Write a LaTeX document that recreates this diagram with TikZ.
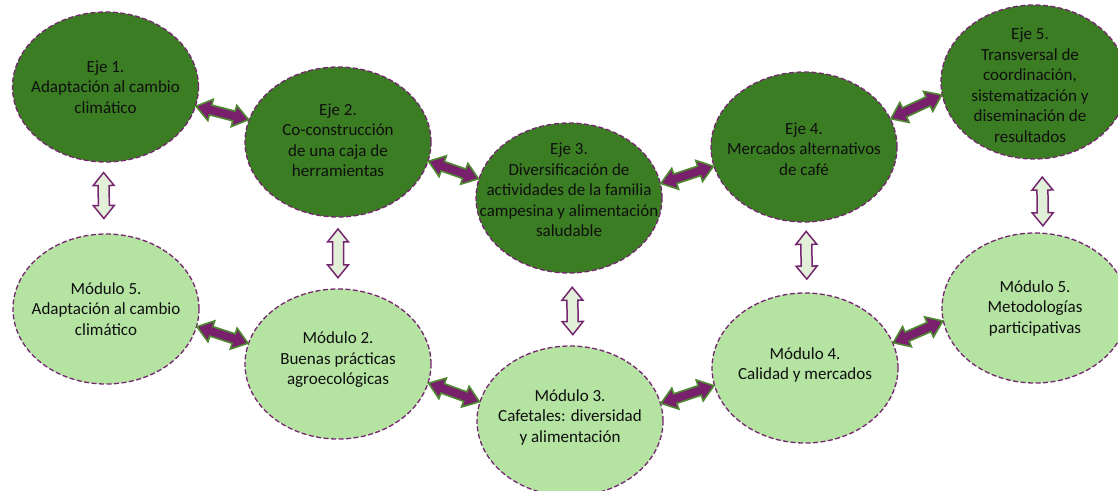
\documentclass[tikz,border=0pt]{standalone}
\usepackage{fontspec}
\setmainfont{Carlito}
\usetikzlibrary{calc,shapes.geometric}

\definecolor{ejegreen}{RGB}{59,125,35}
\definecolor{modgreen}{RGB}{180,227,162}
\definecolor{borderpurple}{RGB}{118,38,112}
\definecolor{arrowpurple}{RGB}{120,32,108}
\definecolor{arrowgreen}{RGB}{78,136,48}
\definecolor{palegreen}{RGB}{226,240,217}
\definecolor{textdark}{RGB}{15,15,15}

% double headed block arrow: start, end, style, head length, head half width, shaft half width
\newcommand{\dblarr}[6]{%
	\coordinate (da1) at ($(#1)!#4!(#2)$);
	\coordinate (da2) at ($(#2)!#4!(#1)$);
	\filldraw[#3] (#1) -- ($(da1)!#5!90:(#2)$) -- ($(da1)!#6!90:(#2)$)
		-- ($(da2)!#6!-90:(#1)$) -- ($(da2)!#5!-90:(#1)$) -- (#2)
		-- ($(da2)!#5!90:(#1)$) -- ($(da2)!#6!90:(#1)$)
		-- ($(da1)!#6!-90:(#2)$) -- ($(da1)!#5!-90:(#2)$) -- cycle;
}

\begin{document}
\begin{tikzpicture}
    [%%%%%%%%%%%%%%%%%%%%%%%%%%%%%%
        x=1pt,y=-1pt,
        eje/.style={ellipse,draw=borderpurple,fill=ejegreen,line width=1.3pt,
        	dash pattern=on 5pt off 2.5pt,minimum width=186pt,minimum height=150pt,
        	inner sep=0pt},
        modulo/.style={eje,fill=modgreen},
        txt/.style={align=center,text=textdark,inner sep=0pt,font=\fontsize{17}{20.5}\selectfont},
        hbar/.style={fill=arrowpurple,draw=arrowgreen,line width=1.6pt,line join=miter},
        vbar/.style={fill=palegreen,draw=borderpurple,line width=1.5pt,line join=miter},
    ]%%%%%%%%%%%%%%%%%%%%%%%%%%%%%%

\useasboundingbox (0,0) rectangle (1118,490);
\clip (0,0) rectangle (1118,490);

% ejes
\node[eje] (e1) at (105.5,87) {};
\node[eje] (e2) at (338,142) {};
\node[eje] (e3) at (569,198) {};
\node[eje] (e4) at (804,147) {};
\node[eje,minimum height=154pt] (e5) at (1034,82) {};

% modulos
\node[modulo] (m1) at (106,309) {};
\node[modulo] (m2) at (338,364) {};
\node[modulo] (m3) at (570,421) {};
\node[modulo] (m4) at (805,368) {};
\node[modulo] (m5) at (1035,308) {};

% texts
\node[txt] (t1) at (e1) {Eje 1.\\Adaptación al cambio\\climático};
\node[txt,yshift=2pt] (t2) at (e2) {Eje 2.\\Co-construcción\\de una caja de\\herramientas};
\node[txt,yshift=8pt] (t3) at (e3) {Eje 3.\\Diversificación de\\actividades de la familia\\campesina y alimentación\\saludable};
\node[txt,yshift=-2pt] (t4) at (e4) {Eje 4.\\Mercados alternativos\\de café};
\node[txt,yshift=-3pt,xshift=-4pt] (t5) at (e5) {Eje 5.\\Transversal de\\coordinación,\\sistematización y\\diseminación de\\resultados};
\node[txt] (u1) at (m1) {Módulo 5.\\Adaptación al cambio\\climático};
\node[txt,yshift=4pt] (u2) at (m2) {Módulo 2.\\Buenas prácticas\\agroecológicas};
\node[txt,yshift=4pt] (u3) at (m3) {Módulo 3.\\Cafetales: diversidad\\y alimentación};
\node[txt,yshift=3pt] (u4) at (m4) {Módulo 4.\\Calidad y mercados};
\node[txt] (u5) at (m5) {Módulo 5.\\Metodologías\\participativas};

% arrows along each row
\foreach \a/\p/\b/\q in {e1/-12.3/e2/166.6, e2/-12.5/e3/168.6, e3/9.7/e4/192.4, e4/18.6/e5/188,
	m1/-11.8/m2/167, m2/-12.9/m3/168.9, m3/11.3/m4/191.9, m4/16.5/m5/188.7}{
	\dblarr{\a.\p}{\b.\q}{hbar}{15pt}{11pt}{5pt}
}

% arrows between eje and modulo
\foreach \a/\b/\s/\t/\dx in {e1/m1/.14/.79/-2, e2/m2/.16/.85/0, e3/m3/.19/.85/3,
	e4/m4/.125/.81/2, e5/m5/.24/.91/8}{
	\coordinate (vs) at ($(\a.south)!\s!(\b.north)+(\dx,0)$);
	\coordinate (vt) at ($(\a.south)!\t!(\b.north)+(\dx,0)$);
	\dblarr{vs}{vt}{vbar}{13pt}{10.5pt}{5.5pt}
}

\end{tikzpicture}
\end{document}
